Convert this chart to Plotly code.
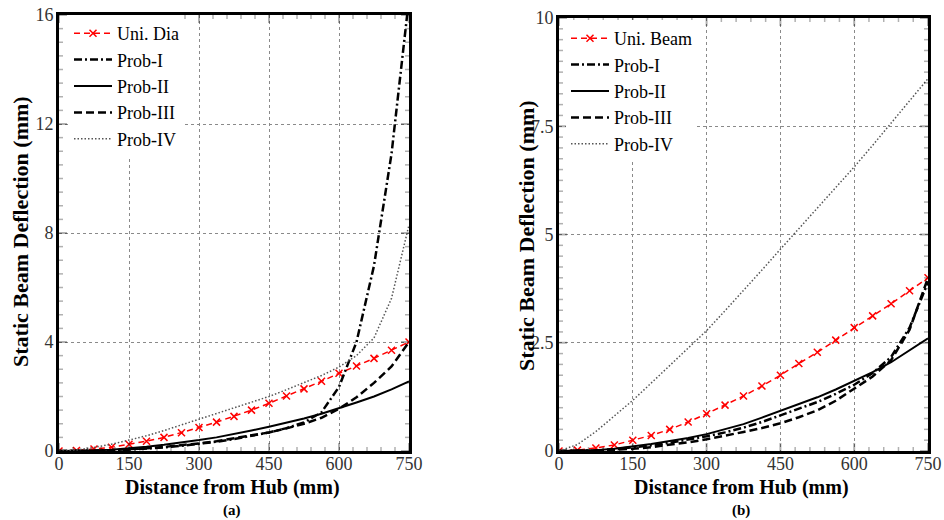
import plotly.graph_objects as go

# ---------------- data ----------------
dist_mm = [0, 37.5, 75, 112.5, 150, 187.5, 225, 262.5, 300, 337.5, 375,
           412.5, 450, 487.5, 525, 562.5, 600, 637.5, 675, 712.5, 750]

uni_dia = [0, 0.02, 0.07, 0.14, 0.25, 0.36, 0.5, 0.67, 0.86, 1.06, 1.27,
           1.5, 1.75, 2.02, 2.28, 2.56, 2.85, 3.12, 3.4, 3.7, 4.0]
a_prob1 = [0, 0.0, 0.01, 0.02, 0.05, 0.08, 0.13, 0.19, 0.26, 0.34, 0.44,
           0.55, 0.68, 0.84, 1.05, 1.42, 2.35, 4.0, 6.8, 10.9, 16.6]
a_prob2 = [0, 0.005, 0.02, 0.05, 0.1, 0.16, 0.23, 0.31, 0.4, 0.5, 0.62,
           0.75, 0.89, 1.03, 1.19, 1.37, 1.57, 1.78, 2.0, 2.26, 2.55]
a_prob3 = [0, 0.0, 0.01, 0.03, 0.06, 0.1, 0.15, 0.21, 0.28, 0.36, 0.46,
           0.57, 0.68, 0.83, 1.0, 1.22, 1.55, 1.97, 2.5, 3.1, 4.0]
a_prob4 = [0, 0.04, 0.13, 0.25, 0.4, 0.56, 0.75, 0.96, 1.17, 1.37, 1.58,
           1.79, 2.0, 2.25, 2.5, 2.77, 3.08, 3.5, 4.15, 5.6, 8.3]

uni_beam = [0, 0.02, 0.07, 0.14, 0.25, 0.36, 0.5, 0.67, 0.86, 1.06, 1.27,
            1.5, 1.75, 2.02, 2.28, 2.56, 2.85, 3.12, 3.4, 3.7, 4.0]
b_prob1 = [0, 0.003, 0.015, 0.04, 0.08, 0.13, 0.19, 0.26, 0.34, 0.43, 0.54,
           0.67, 0.82, 0.97, 1.13, 1.32, 1.53, 1.8, 2.17, 2.85, 3.9]
b_prob2 = [0, 0.005, 0.02, 0.05, 0.1, 0.16, 0.23, 0.3, 0.39, 0.5, 0.62,
           0.77, 0.93, 1.08, 1.24, 1.42, 1.62, 1.82, 2.05, 2.32, 2.6]
b_prob3 = [0, 0.0, 0.01, 0.03, 0.05, 0.09, 0.14, 0.2, 0.27, 0.35, 0.44,
           0.53, 0.64, 0.78, 0.94, 1.16, 1.45, 1.72, 2.1, 2.8, 4.0]
b_prob4 = [0, 0.15, 0.45, 0.8, 1.17, 1.57, 1.97, 2.37, 2.78, 3.24, 3.7,
           4.18, 4.66, 5.13, 5.6, 6.08, 6.56, 7.06, 7.57, 8.08, 8.6]

x_tick_step = 150
x_minor_step = 30
a_y_tick_step = 4
a_y_minor_step = 0.5
b_y_tick_step = 2.5
b_y_minor_step = 0.25

# ---------------- figure ----------------
FONT = "Liberation Serif"
fig = go.Figure()

styles = [
    dict(color="red", width=1.5, dash="6px,4px"),
    dict(color="black", width=2.5, dash="8px,3px,2px,3px"),
    dict(color="black", width=2, dash="solid"),
    dict(color="black", width=2.5, dash="8px,4px"),
    dict(color="#555555", width=1.5, dash="1.5px,2px"),
]

def add_panel(series, names, xa, ya, leg):
    for i, (ys, nm) in enumerate(zip(series, names)):
        if i == 0:
            kw = dict(mode="lines+markers",
                      marker=dict(symbol="x-thin", size=7, color="red",
                                  line=dict(width=1.5, color="red")))
        else:
            kw = dict(mode="lines")
        fig.add_trace(go.Scatter(x=dist_mm, y=ys, name=nm, line=styles[i],
                                 xaxis=xa, yaxis=ya, legend=leg, **kw))

add_panel([uni_dia, a_prob1, a_prob2, a_prob3, a_prob4],
          ["Uni. Dia", "Prob-I", "Prob-II", "Prob-III", "Prob-IV"],
          "x", "y", "legend")
add_panel([uni_beam, b_prob1, b_prob2, b_prob3, b_prob4],
          ["Uni. Beam", "Prob-I", "Prob-II", "Prob-III", "Prob-IV"],
          "x2", "y2", "legend2")

W, H = 944, 520
def px_x(p): return p / W
def px_y(p): return 1 - p / H

A_XPX, A_YPX = (59, 409), (451, 15)
B_XPX, B_YPX = (559, 928), (451, 18)
A_X = [px_x(A_XPX[0]), px_x(A_XPX[1])]
B_X = [px_x(B_XPX[0]), px_x(B_XPX[1])]
A_Y = [px_y(A_YPX[0]), px_y(A_YPX[1])]
B_Y = [px_y(B_YPX[0]), px_y(B_YPX[1])]

def main_axis(domain, rng, dtick, anchor, standoff):
    return dict(
        domain=domain, range=rng, anchor=anchor, automargin=False,
        tickmode="linear", tick0=0, dtick=dtick,
        showline=True, linecolor="black", linewidth=3, mirror=True,
        ticks="", showgrid=True, gridcolor="#8a8a8a", griddash="dot",
        gridwidth=1, zeroline=False, ticklabelstandoff=standoff,
        tickfont=dict(family=FONT, size=18, color="#333333"),
    )

# inward tick marks on all four sides (axis decoration, placed on the axes' own scales)
def add_inward_ticks(xr, yr, xmax, ymax, x_major, x_minor, y_major, y_minor, wpx, hpx):
    def line(**kw):
        fig.add_shape(type="line", layer="above", **kw)
    n_x = int(round(xmax / x_minor))
    for i in range(n_x + 1):
        v = i * x_minor
        major = abs(v / x_major - round(v / x_major)) < 1e-9
        L, lw = (8, 2) if major else (4, 1.5)
        st = dict(color="black", width=lw)
        line(xref=xr, yref=f"{yr} domain", x0=v, x1=v, y0=0, y1=L / hpx, line=st)
        line(xref=xr, yref=f"{yr} domain", x0=v, x1=v, y0=1, y1=1 - L / hpx, line=st)
    n_y = int(round(ymax / y_minor))
    for i in range(n_y + 1):
        v = i * y_minor
        major = abs(v / y_major - round(v / y_major)) < 1e-9
        L, lw = (8, 2) if major else (4, 1.5)
        st = dict(color="black", width=lw)
        line(xref=f"{xr} domain", yref=yr, x0=0, x1=L / wpx, y0=v, y1=v, line=st)
        line(xref=f"{xr} domain", yref=yr, x0=1, x1=1 - L / wpx, y0=v, y1=v, line=st)

add_inward_ticks("x", "y", 750, 16, x_tick_step, x_minor_step,
                 a_y_tick_step, a_y_minor_step,
                 A_XPX[1] - A_XPX[0], A_YPX[0] - A_YPX[1])
add_inward_ticks("x2", "y2", 750, 10, x_tick_step, x_minor_step,
                 b_y_tick_step, b_y_minor_step,
                 B_XPX[1] - B_XPX[0], B_YPX[0] - B_YPX[1])

fig.update_layout(
    template="simple_white",
    width=W, height=H,
    margin=dict(l=0, r=0, t=0, b=0, pad=0),
    paper_bgcolor="white", plot_bgcolor="white",
    showlegend=True,
    xaxis=main_axis(A_X, [0, 750], x_tick_step, "y", -6),
    yaxis=main_axis(A_Y, [0, 16], a_y_tick_step, "x", -1),
    xaxis2=main_axis(B_X, [0, 750], x_tick_step, "y2", -6),
    yaxis2=main_axis(B_Y, [0, 10], b_y_tick_step, "x2", -1),
    legend=dict(x=px_x(69), y=px_y(15), xanchor="left", yanchor="top",
                bgcolor="white", borderwidth=0, tracegroupgap=0, itemwidth=38,
                font=dict(family=FONT, size=18, color="black")),
    legend2=dict(x=px_x(566), y=px_y(20), xanchor="left", yanchor="top",
                 bgcolor="white", borderwidth=0, tracegroupgap=0, itemwidth=38,
                 font=dict(family=FONT, size=18, color="black")),
)

title_font = dict(family=FONT, size=20, color="black")
sub_font = dict(family=FONT, size=15, color="black")
annos = [
    dict(text="<b>Distance from Hub (mm)</b>", x=px_x(232), y=px_y(487.5), font=title_font),
    dict(text="<b>(a)</b>", x=px_x(232), y=px_y(510), font=sub_font),
    dict(text="<b>Distance from Hub (mm)</b>", x=px_x(741), y=px_y(487.5), font=title_font),
    dict(text="<b>(b)</b>", x=px_x(741), y=px_y(510), font=sub_font),
    dict(text="<b>Static Beam Deflection (mm)</b>", x=px_x(21), y=px_y(232),
         textangle=-90, font=dict(family=FONT, size=22, color="black")),
    dict(text="<b>Static Beam Deflection (mm)</b>", x=px_x(527), y=px_y(236),
         textangle=-90, font=dict(family=FONT, size=22, color="black")),
]
for a in annos:
    fig.add_annotation(xref="paper", yref="paper", showarrow=False,
                       xanchor="center", yanchor="middle", **a)

fig.write_html("out.html")
